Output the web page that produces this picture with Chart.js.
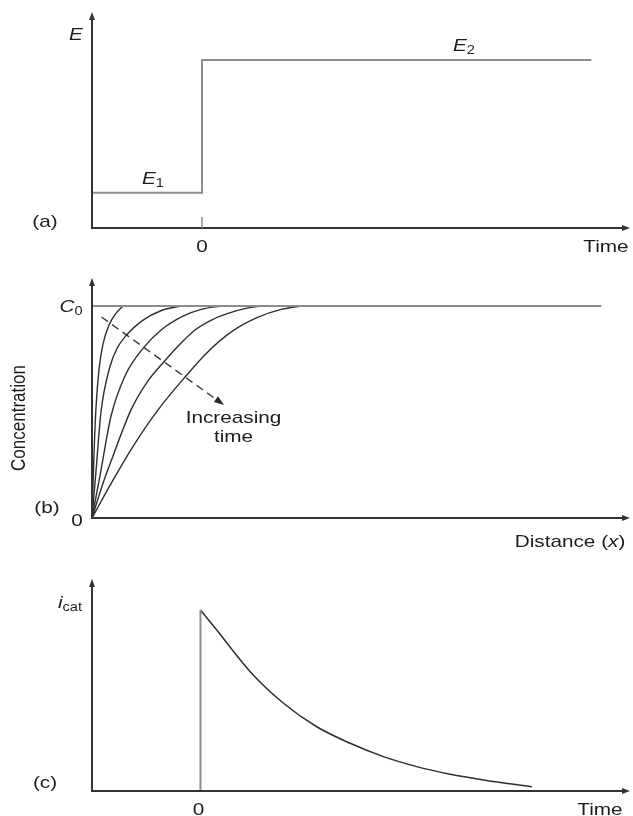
<!DOCTYPE html>
<html>
<head>
<meta charset="utf-8">
<script src="https://cdn.jsdelivr.net/npm/chart.js@4/dist/chart.umd.min.js"></script>
<style>
  html, body { margin: 0; padding: 0; background: #ffffff; }
  #wrap { position: relative; width: 633px; height: 816px; }
  canvas { position: absolute; left: 0; }
</style>
</head>
<body>
<div id="wrap">
  <canvas id="panelA" width="633" height="262" style="top:0px"></canvas>
  <canvas id="panelB" width="633" height="293" style="top:262px"></canvas>
  <canvas id="panelC" width="633" height="261" style="top:555px"></canvas>
</div>
<script>
// (a) potential step: E1 before t = 0, E2 after
const stepTime = [-1, 0, 0, 3.54];
const stepPotential = [0.163, 0.163, 0.778, 0.778];

// (b) concentration profiles C/C0 against distance, one per time
const c0Distance = [0, 94.7];
const c0Level = [1, 1];
const profileDistance = [
  [0, 0.37, 0.74, 1.30, 2.04, 3.16, 4.46, 5.76],
  [0, 0.74, 1.67, 3.29, 4.65, 6.41, 9.29, 13.01, 16.54],
  [0, 1.49, 3.53, 6.13, 9.48, 13.01, 16.73, 20.45, 23.98],
  [0, 1.86, 3.72, 7.25, 10.22, 13.38, 16.73, 19.14, 22.30, 25.28, 28.81, 31.60],
  [0, 3.72, 7.43, 12.27, 17.29, 21.38, 26.02, 30.67, 35.32, 38.85]
];
const profileConc = [
  [0, 0.30, 0.52, 0.70, 0.82, 0.91, 0.965, 1.0],
  [0, 0.22, 0.50, 0.71, 0.80, 0.863, 0.93, 0.98, 1.0],
  [0, 0.20, 0.48, 0.67, 0.80, 0.89, 0.95, 0.985, 1.0],
  [0, 0.15, 0.28, 0.51, 0.64, 0.737, 0.83, 0.887, 0.935, 0.965, 0.99, 1.0],
  [0, 0.17, 0.33, 0.51, 0.665, 0.78, 0.88, 0.945, 0.985, 1.0]
];
// "increasing time" arrow: start and tip
const timeArrowX = [1.77, 23.88];
const timeArrowY = [0.948, 0.545];

// (c) current transient
const currentTime = [0, 0.148, 0.452, 0.755, 1.057, 1.361, 1.664, 1.966, 2.27, 2.573, 3.012];
const currentValue = [0.854, 0.759, 0.563, 0.414, 0.303, 0.225, 0.162, 0.115, 0.079, 0.052, 0.020];

// axis tick labels
const tickLabelsA = ['0'];
const tickLabelsB = ['0', 'C0'];
const tickLabelsC = ['0'];

const AXIS = '#333333';
const GREY = '#8c8c8c';
const INK = '#1c1c1c';
const FONT = '"Liberation Sans", Arial, Helvetica, sans-serif';
const STRETCH = 1.22;

function pts(xs, ys) { return xs.map((x, i) => ({ x: x, y: ys[i] })); }

// draw a run of text parts (normal / italic / subscript), centred at cx, cy
function rich(ctx, parts, cx, cy, rotate) {
  ctx.save();
  ctx.fillStyle = INK;
  ctx.textBaseline = 'middle';
  ctx.textAlign = 'left';
  const fontOf = p => (p.italic ? 'italic ' : '') + (p.sub ? '12px ' : '17px ') + FONT;
  let w = 0;
  parts.forEach(p => { ctx.font = fontOf(p); w += ctx.measureText(p.t).width; });
  ctx.translate(cx, cy);
  ctx.scale(STRETCH, 1);
  if (rotate) ctx.rotate(-Math.PI / 2);
  let x = -w / 2;
  parts.forEach(p => {
    ctx.font = fontOf(p);
    ctx.fillText(p.t, x, p.sub ? 5 : 0);
    x += ctx.measureText(p.t).width;
  });
  ctx.restore();
}

function arrowHead(ctx, x, y, dx, dy, len, half, color) {
  const n = Math.hypot(dx, dy); const ux = dx / n, uy = dy / n;
  ctx.save();
  ctx.fillStyle = color;
  ctx.beginPath();
  ctx.moveTo(x, y);
  ctx.lineTo(x - ux * len - uy * half, y - uy * len + ux * half);
  ctx.lineTo(x - ux * len + uy * half, y - uy * len - ux * half);
  ctx.closePath();
  ctx.fill();
  ctx.restore();
}

// L-shaped axes with arrowheads on both ends
function axesPlugin(extra) {
  return {
    id: 'axesAndLabels',
    afterDatasetsDraw(chart) {
      const ctx = chart.ctx, a = chart.chartArea;
      ctx.save();
      ctx.strokeStyle = AXIS;
      ctx.lineWidth = 2;
      ctx.beginPath();
      ctx.moveTo(a.left, a.top + 4);
      ctx.lineTo(a.left, a.bottom);
      ctx.lineTo(a.right - 4, a.bottom);
      ctx.stroke();
      ctx.restore();
      arrowHead(ctx, a.left, a.top, 0, -1, 8, 3, AXIS);
      arrowHead(ctx, a.right, a.bottom, 1, 0, 8, 3, AXIS);
      if (extra) extra(chart);
    }
  };
}

function baseOptions(pad, xr, yr) {
  return {
    responsive: false,
    devicePixelRatio: 1,
    animation: false,
    events: [],
    layout: { padding: pad },
    plugins: { legend: { display: false }, tooltip: { enabled: false } },
    elements: { point: { radius: 0 } },
    scales: {
      x: { type: 'linear', display: false, min: xr[0], max: xr[1] },
      y: { type: 'linear', display: false, min: yr[0], max: yr[1] }
    }
  };
}

// ---------- (a) ----------
new Chart(document.getElementById('panelA'), {
  type: 'line',
  data: {
    datasets: [{
      data: pts(stepTime, stepPotential),
      borderColor: GREY, borderWidth: 2, tension: 0, fill: false
    }]
  },
  options: baseOptions({ left: 92, right: 3, top: 12, bottom: 34 }, [-1, -1 + 538 / 110], [0, 1]),
  plugins: [axesPlugin(chart => {
    const ctx = chart.ctx, xs = chart.scales.x, a = chart.chartArea;
    const x0 = xs.getPixelForValue(0);
    ctx.save();
    ctx.strokeStyle = GREY; ctx.lineWidth = 1.5;
    ctx.beginPath(); ctx.moveTo(x0, a.bottom - 11); ctx.lineTo(x0, a.bottom); ctx.stroke();
    ctx.restore();
    rich(ctx, [{ t: 'E', italic: true }], 76, 35);
    rich(ctx, [{ t: 'E', italic: true }, { t: '2', sub: true }], 464, 46);
    rich(ctx, [{ t: 'E', italic: true }, { t: '1', sub: true }], 153, 179);
    rich(ctx, [{ t: '(a)' }], 45, 222);
    rich(ctx, [{ t: tickLabelsA[0] }], x0, 247);
    rich(ctx, [{ t: 'Time' }], 606, 247);
  })]
});

// ---------- (b) ----------
const profileSets = profileDistance.map((xs, i) => ({
  data: pts(xs, profileConc[i]),
  borderColor: '#2e2e2e', borderWidth: 1.4, fill: false,
  cubicInterpolationMode: 'monotone'
}));
new Chart(document.getElementById('panelB'), {
  type: 'line',
  data: {
    datasets: [
      { data: pts(c0Distance, c0Level), borderColor: GREY, borderWidth: 2, fill: false },
      ...profileSets,
      { data: pts(timeArrowX, timeArrowY), borderColor: '#3a3a3a', borderWidth: 1.4,
        borderDash: [8, 5], fill: false }
    ]
  },
  options: baseOptions({ left: 92, right: 3, top: 16, bottom: 37 }, [0, 100], [0, 240 / 212]),
  plugins: [axesPlugin(chart => {
    const ctx = chart.ctx, xs = chart.scales.x, ys = chart.scales.y;
    const tx = xs.getPixelForValue(timeArrowX[1]), ty = ys.getPixelForValue(timeArrowY[1]);
    const sx = xs.getPixelForValue(timeArrowX[0]), sy = ys.getPixelForValue(timeArrowY[0]);
    arrowHead(ctx, tx + (tx - sx) * 0.03, ty + (ty - sy) * 0.03, tx - sx, ty - sy, 10, 3.5, '#2a2a2a');
    rich(ctx, [{ t: 'C', italic: true }, { t: tickLabelsB[1].slice(1), sub: true }], 71, ys.getPixelForValue(1) + 1);
    rich(ctx, [{ t: tickLabelsB[0] }], 77, ys.getPixelForValue(0) + 3);
    rich(ctx, [{ t: '(b)' }], 47, 246);
    rich(ctx, [{ t: 'Concentration' }], 19, 156, true);
    rich(ctx, [{ t: 'Distance (' }, { t: 'x', italic: true }, { t: ')' }], 570, 280);
    rich(ctx, [{ t: 'Increasing' }], 233.5, 156);
    rich(ctx, [{ t: 'time' }], 233.5, 175);
  })]
});

// ---------- (c) ----------
new Chart(document.getElementById('panelC'), {
  type: 'line',
  data: {
    datasets: [
      { data: pts([0, 0], [0, currentValue[0]]), borderColor: GREY, borderWidth: 2, fill: false },
      { data: pts(currentTime, currentValue), borderColor: '#2e2e2e', borderWidth: 1.5,
        fill: false, cubicInterpolationMode: 'monotone' }
    ]
  },
  options: baseOptions({ left: 92, right: 3, top: 24, bottom: 25 }, [-0.986, -0.986 + 538 / 110], [0, 1]),
  plugins: [axesPlugin(chart => {
    const ctx = chart.ctx, xs = chart.scales.x;
    rich(ctx, [{ t: 'i', italic: true }, { t: 'cat', sub: true }], 70, 48);
    rich(ctx, [{ t: tickLabelsC[0] }], xs.getPixelForValue(0) - 2, 255);
    rich(ctx, [{ t: 'Time' }], 600, 255);
    rich(ctx, [{ t: '(c)' }], 45, 228);
  })]
});
</script>
</body>
</html>
